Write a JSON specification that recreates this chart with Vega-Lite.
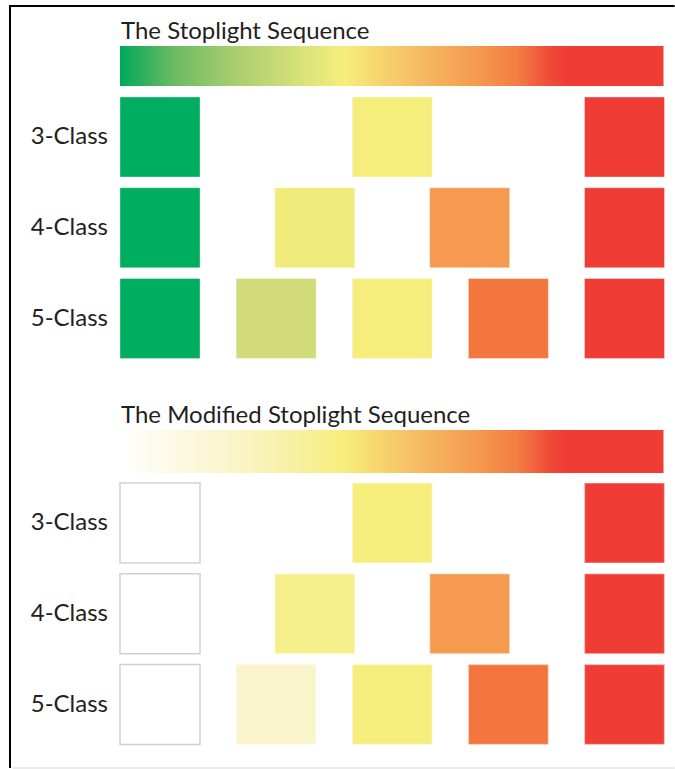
{
  "$schema": "https://vega.github.io/schema/vega-lite/v6.json",
  "autosize": {"type": "pad"},
  "padding": 0,
  "background": "white",
  "spacing": 0,
  "bounds": "flush",
  "config": {"view": {"stroke": null}, "concat": {"spacing": 0}, "axis": {"disable": true}},
  "datasets": {
    "squares": [
      {"sequence": "The Stoplight Sequence", "classes": 3, "label": "3-Class", "position": 0, "shade": "green"},
      {"sequence": "The Stoplight Sequence", "classes": 3, "label": "3-Class", "position": 0.5, "shade": "yellow"},
      {"sequence": "The Stoplight Sequence", "classes": 3, "label": "3-Class", "position": 1, "shade": "red"},
      {"sequence": "The Stoplight Sequence", "classes": 4, "label": "4-Class", "position": 0, "shade": "green"},
      {"sequence": "The Stoplight Sequence", "classes": 4, "label": "4-Class", "position": 0.3333, "shade": "soft yellow"},
      {"sequence": "The Stoplight Sequence", "classes": 4, "label": "4-Class", "position": 0.6667, "shade": "orange"},
      {"sequence": "The Stoplight Sequence", "classes": 4, "label": "4-Class", "position": 1, "shade": "red"},
      {"sequence": "The Stoplight Sequence", "classes": 5, "label": "5-Class", "position": 0, "shade": "green"},
      {"sequence": "The Stoplight Sequence", "classes": 5, "label": "5-Class", "position": 0.25, "shade": "yellow-green"},
      {"sequence": "The Stoplight Sequence", "classes": 5, "label": "5-Class", "position": 0.5, "shade": "yellow"},
      {"sequence": "The Stoplight Sequence", "classes": 5, "label": "5-Class", "position": 0.75, "shade": "dark orange"},
      {"sequence": "The Stoplight Sequence", "classes": 5, "label": "5-Class", "position": 1, "shade": "red"},
      {"sequence": "The Modified Stoplight Sequence", "classes": 3, "label": "3-Class", "position": 0, "shade": "white"},
      {"sequence": "The Modified Stoplight Sequence", "classes": 3, "label": "3-Class", "position": 0.5, "shade": "yellow"},
      {"sequence": "The Modified Stoplight Sequence", "classes": 3, "label": "3-Class", "position": 1, "shade": "red"},
      {"sequence": "The Modified Stoplight Sequence", "classes": 4, "label": "4-Class", "position": 0, "shade": "white"},
      {"sequence": "The Modified Stoplight Sequence", "classes": 4, "label": "4-Class", "position": 0.3333, "shade": "light yellow"},
      {"sequence": "The Modified Stoplight Sequence", "classes": 4, "label": "4-Class", "position": 0.6667, "shade": "orange"},
      {"sequence": "The Modified Stoplight Sequence", "classes": 4, "label": "4-Class", "position": 1, "shade": "red"},
      {"sequence": "The Modified Stoplight Sequence", "classes": 5, "label": "5-Class", "position": 0, "shade": "white"},
      {"sequence": "The Modified Stoplight Sequence", "classes": 5, "label": "5-Class", "position": 0.25, "shade": "cream"},
      {"sequence": "The Modified Stoplight Sequence", "classes": 5, "label": "5-Class", "position": 0.5, "shade": "yellow"},
      {"sequence": "The Modified Stoplight Sequence", "classes": 5, "label": "5-Class", "position": 0.75, "shade": "dark orange"},
      {"sequence": "The Modified Stoplight Sequence", "classes": 5, "label": "5-Class", "position": 1, "shade": "red"}
    ]
  },
  "vconcat": [
    {
      "width": 675,
      "height": 386,
      "layer": [
        {
          "data": {"name": "squares"},
          "transform": [{"filter": "datum.sequence === 'The Stoplight Sequence'"}],
          "mark": {"type": "point", "shape": "square", "filled": true, "opacity": 1, "size": 6400, "strokeWidth": 1},
          "encoding": {
            "x": {"field": "position", "type": "quantitative", "scale": {"domain": [0, 1], "range": [160, 624.5]}, "axis": null},
            "y": {"field": "classes", "type": "quantitative", "scale": {"domain": [3, 5], "range": [137, 318.5]}, "axis": null},
            "fill": {"field": "shade", "type": "nominal", "legend": null,
              "scale": {"domain": ["green", "yellow-green", "yellow", "soft yellow", "orange", "dark orange", "red", "white", "cream", "light yellow"],
                        "range": ["#00ae5f", "#d2db7a", "#f6ee7c", "#efec7c", "#f59a4e", "#f3763f", "#ef3d36", "#ffffff", "#f9f4cb", "#f4ef8a"]}},
            "stroke": {"condition": {"test": "datum.shade === 'white'", "value": "#cfcfd6"}, "value": "#ffffff"},
            "strokeOpacity": {"condition": {"test": "datum.shade === 'white'", "value": 1}, "value": 0.35}
          }
        },
        {
          "data": {"name": "squares"},
          "transform": [{"filter": "datum.sequence === 'The Stoplight Sequence' && datum.position === 0"}],
          "mark": {"type": "text", "align": "right", "baseline": "middle", "font": "Lato", "fontSize": 24, "color": "#231f20"},
          "encoding": {
            "x": {"datum": -0.112, "type": "quantitative", "axis": null},
            "y": {"field": "classes", "type": "quantitative", "axis": null},
            "text": {"field": "label"}
          }
        },
        {
          "data": {"values": [{"title": "The Stoplight Sequence"}]},
          "mark": {"type": "text", "align": "left", "baseline": "alphabetic", "font": "Lato", "fontSize": 24, "color": "#231f20"},
          "encoding": {
            "x": {"datum": -0.084, "type": "quantitative", "axis": null},
            "y": {"datum": 1.92, "type": "quantitative", "axis": null},
            "text": {"field": "title"}
          }
        },
        {
          "data": {"values": [{"bar": "gradient"}]},
          "mark": {"type": "rect", "fill": {"gradient": "linear", "x1": 0, "y1": 0, "x2": 1, "y2": 0, "stops": [
            {"offset": 0, "color": "#00a85a"},
            {"offset": 0.1, "color": "#6cbb64"},
            {"offset": 0.2, "color": "#a3cc6d"},
            {"offset": 0.3, "color": "#cbdc77"},
            {"offset": 0.41, "color": "#f6ee7c"},
            {"offset": 0.47, "color": "#f6d86f"},
            {"offset": 0.55, "color": "#f6bb62"},
            {"offset": 0.65, "color": "#f59c50"},
            {"offset": 0.73, "color": "#f27e42"},
            {"offset": 0.79, "color": "#ef4b38"},
            {"offset": 0.82, "color": "#ef3d36"},
            {"offset": 1, "color": "#ef3d36"}
          ]}},
          "encoding": {
            "x": {"datum": -0.0861, "type": "quantitative", "axis": null},
            "x2": {"datum": 1.084},
            "y": {"datum": 1.997, "type": "quantitative", "axis": null},
            "y2": {"datum": 2.438}
          }
        },
        {
          "data": {"values": [{"border": "top"}]},
          "mark": {"type": "rule", "color": "#000000", "strokeWidth": 2},
          "encoding": {
            "x": {"datum": -0.3251, "type": "quantitative", "axis": null},
            "x2": {"datum": 1.108},
            "y": {"datum": 1.55647, "type": "quantitative", "axis": null}
          }
        },
        {
          "data": {"values": [{"border": "left"}]},
          "mark": {"type": "rule", "color": "#000000", "strokeWidth": 2},
          "encoding": {
            "x": {"datum": -0.32293, "type": "quantitative", "axis": null},
            "y": {"datum": 1.545, "type": "quantitative", "axis": null},
            "y2": {"datum": 5.7438}
          }
        }
      ]
    },
    {
      "width": 675,
      "height": 383,
      "layer": [
        {
          "data": {"name": "squares"},
          "transform": [{"filter": "datum.sequence === 'The Modified Stoplight Sequence'"}],
          "mark": {"type": "point", "shape": "square", "filled": true, "opacity": 1, "size": 6400, "strokeWidth": 1.5},
          "encoding": {
            "x": {"field": "position", "type": "quantitative", "scale": {"domain": [0, 1], "range": [160, 624.5]}, "axis": null},
            "y": {"field": "classes", "type": "quantitative", "scale": {"domain": [3, 5], "range": [137, 318.5]}, "axis": null},
            "fill": {"field": "shade", "type": "nominal", "legend": null,
              "scale": {"domain": ["green", "yellow-green", "yellow", "soft yellow", "orange", "dark orange", "red", "white", "cream", "light yellow"],
                        "range": ["#00ae5f", "#d2db7a", "#f6ee7c", "#efec7c", "#f59a4e", "#f3763f", "#ef3d36", "#ffffff", "#f9f4cb", "#f4ef8a"]}},
            "stroke": {"condition": {"test": "datum.shade === 'white'", "value": "#cfcfd6"}, "value": "#ffffff"},
            "strokeOpacity": {"condition": {"test": "datum.shade === 'white'", "value": 1}, "value": 0.35}
          }
        },
        {
          "data": {"name": "squares"},
          "transform": [{"filter": "datum.sequence === 'The Modified Stoplight Sequence' && datum.position === 0"}],
          "mark": {"type": "text", "align": "right", "baseline": "middle", "font": "Lato", "fontSize": 24, "color": "#231f20"},
          "encoding": {
            "x": {"datum": -0.112, "type": "quantitative", "axis": null},
            "y": {"field": "classes", "type": "quantitative", "axis": null},
            "text": {"field": "label"}
          }
        },
        {
          "data": {"values": [{"title": "The Modified Stoplight Sequence"}]},
          "mark": {"type": "text", "align": "left", "baseline": "alphabetic", "font": "Lato", "fontSize": 24, "color": "#231f20"},
          "encoding": {
            "x": {"datum": -0.084, "type": "quantitative", "axis": null},
            "y": {"datum": 1.898, "type": "quantitative", "axis": null},
            "text": {"field": "title"}
          }
        },
        {
          "data": {"values": [{"bar": "gradient"}]},
          "mark": {"type": "rect", "fill": {"gradient": "linear", "x1": 0, "y1": 0, "x2": 1, "y2": 0, "stops": [
            {"offset": 0, "color": "#ffffff"},
            {"offset": 0.1, "color": "#fcf9e4"},
            {"offset": 0.2, "color": "#f9f5cc"},
            {"offset": 0.3, "color": "#f8f1ab"},
            {"offset": 0.41, "color": "#f6ee7c"},
            {"offset": 0.47, "color": "#f6d86f"},
            {"offset": 0.55, "color": "#f6bb62"},
            {"offset": 0.65, "color": "#f59c50"},
            {"offset": 0.73, "color": "#f27e42"},
            {"offset": 0.79, "color": "#ef4b38"},
            {"offset": 0.82, "color": "#ef3d36"},
            {"offset": 1, "color": "#ef3d36"}
          ]}},
          "encoding": {
            "x": {"datum": -0.0861, "type": "quantitative", "axis": null},
            "x2": {"datum": 1.084},
            "y": {"datum": 1.9752, "type": "quantitative", "axis": null},
            "y2": {"datum": 2.449}
          }
        },
        {
          "data": {"values": [{"border": "left"}]},
          "mark": {"type": "rule", "color": "#000000", "strokeWidth": 2},
          "encoding": {
            "x": {"datum": -0.32293, "type": "quantitative", "axis": null},
            "y": {"datum": 1.4904, "type": "quantitative", "axis": null},
            "y2": {"datum": 5.7}
          }
        },
        {
          "data": {"values": [{"border": "bottom"}]},
          "mark": {"type": "rule", "color": "#e3e3e3", "strokeWidth": 1.5},
          "encoding": {
            "x": {"datum": -0.3172, "type": "quantitative", "axis": null},
            "x2": {"datum": 1.108},
            "y": {"datum": 5.7, "type": "quantitative", "axis": null}
          }
        }
      ]
    }
  ]
}
